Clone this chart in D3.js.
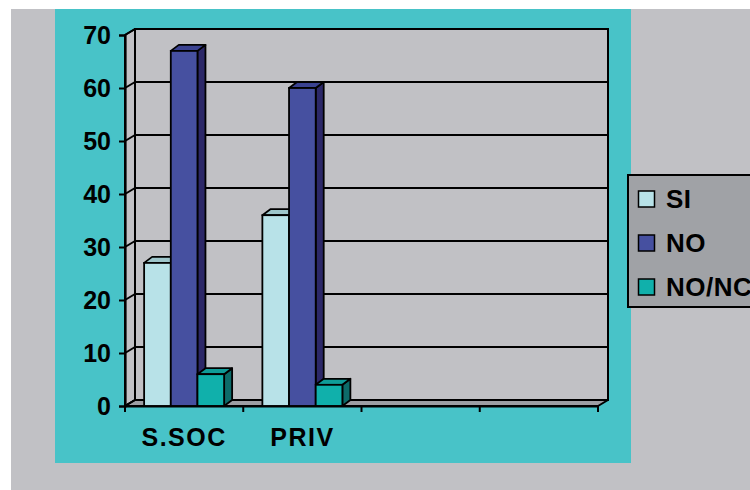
<!DOCTYPE html>
<html>
<head>
<meta charset="utf-8">
<script src="https://cdn.jsdelivr.net/npm/d3@7"></script>
<style>
  html, body { margin: 0; padding: 0; background: #ffffff; }
  svg { display: block; }
  text { font-family: "Liberation Sans", Arial, sans-serif; font-weight: bold; fill: #000; }
</style>
</head>
<body>
<svg id="chart" width="750" height="490"></svg>
<script>
// Categories along the x axis (the last two slots are empty)
const categories = ["S.SOC", "PRIV", "", ""];
// Series names
const series = ["SI", "NO", "NO/NC"];
// Values per series, one per filled category
const siValues = [27, 36];
const noValues = [67, 60];
const noncValues = [6, 4];
// Y axis ticks
const yTicks = [0, 10, 20, 30, 40, 50, 60, 70];

const seriesValues = [siValues, noValues, noncValues];
const colors = {
  SI:      { front: "#b8e2e8", top: "#9ec6cb", side: "#8fb7bc" },
  NO:      { front: "#4650a0", top: "#3a4290", side: "#2c2868" },
  "NO/NC": { front: "#10b0ab", top: "#0f9c98", side: "#0d6b69" }
};

const svg = d3.select("#chart");

// Backgrounds
svg.append("rect").attr("x", 11).attr("y", 9).attr("width", 739).attr("height", 481).attr("fill", "#c1c1c5");
svg.append("rect").attr("x", 55).attr("y", 9).attr("width", 576).attr("height", 454).attr("fill", "#48c3c8");

// Oblique 3D projection offsets
const wallDx = 10, wallDy = 6;
const barDx = 8, barDy = 6;

const x = d3.scaleBand().domain(d3.range(categories.length)).range([125, 598]).padding(0);
const y = d3.scaleLinear().domain([0, 70]).range([406, 35]);
const groupW = 80;
const x1 = d3.scaleBand().domain(series)
  .range([(x.bandwidth() - groupW) / 2, (x.bandwidth() + groupW) / 2]).padding(0);

const x0 = x.range()[0], xEnd = x.range()[1];
const y0 = y(0), yTop = y(70);

const wall = svg.append("g");
// Back wall
wall.append("rect")
  .attr("x", x0 + wallDx).attr("y", yTop - wallDy)
  .attr("width", xEnd - x0).attr("height", y0 - yTop)
  .attr("fill", "#c1c1c5").attr("stroke", "#000").attr("stroke-width", 2);
// Side wall
wall.append("polygon")
  .attr("points", [[x0, yTop], [x0 + wallDx, yTop - wallDy], [x0 + wallDx, y0 - wallDy], [x0, y0]].map(p => p.join(",")).join(" "))
  .attr("fill", "#c1c1c5").attr("stroke", "#000").attr("stroke-width", 2).attr("stroke-linejoin", "round");
// Floor
wall.append("polygon")
  .attr("points", [[x0, y0], [x0 + wallDx, y0 - wallDy], [xEnd + wallDx, y0 - wallDy], [xEnd, y0]].map(p => p.join(",")).join(" "))
  .attr("fill", "#9d9ea3").attr("stroke", "#000").attr("stroke-width", 2).attr("stroke-linejoin", "round");

// Gridlines on back wall and side wall
yTicks.filter(v => v > 0 && v < 70).forEach(v => {
  wall.append("line")
    .attr("x1", x0 + wallDx).attr("x2", xEnd + wallDx)
    .attr("y1", y(v) - wallDy).attr("y2", y(v) - wallDy)
    .attr("stroke", "#000").attr("stroke-width", 2);
});
yTicks.forEach(v => {
  wall.append("line")
    .attr("x1", x0).attr("y1", y(v))
    .attr("x2", x0 + wallDx).attr("y2", y(v) - wallDy)
    .attr("stroke", "#000").attr("stroke-width", 2);
});

// Bars
const bars = svg.append("g");
categories.forEach((cat, ci) => {
  series.forEach((s, si) => {
    const v = seriesValues[si][ci];
    if (v === undefined) return;
    const bx = x(ci) + x1(s);
    const bw = x1.bandwidth();
    const by = y(v);
    const c = colors[s];
    // side face
    bars.append("polygon")
      .attr("points", [[bx + bw, by], [bx + bw + barDx, by - barDy], [bx + bw + barDx, y0 - barDy], [bx + bw, y0]].map(p => p.join(",")).join(" "))
      .attr("fill", c.side).attr("stroke", "#000").attr("stroke-width", 1.8).attr("stroke-linejoin", "round");
    // top face
    bars.append("polygon")
      .attr("points", [[bx, by], [bx + barDx, by - barDy], [bx + bw + barDx, by - barDy], [bx + bw, by]].map(p => p.join(",")).join(" "))
      .attr("fill", c.top).attr("stroke", "#000").attr("stroke-width", 1.8).attr("stroke-linejoin", "round");
    // front face
    bars.append("rect")
      .attr("x", bx).attr("y", by).attr("width", bw).attr("height", y0 - by)
      .attr("fill", c.front).attr("stroke", "#000").attr("stroke-width", 1.8);
  });
});

// Y axis
const yAxis = svg.append("g").attr("transform", `translate(${x0},0)`)
  .call(d3.axisLeft(y).tickValues(yTicks).tickSize(6).tickPadding(8).tickFormat(d3.format("d")));
yAxis.select(".domain").attr("stroke", "#000").attr("stroke-width", 2.2);
yAxis.selectAll(".tick line").attr("stroke", "#000").attr("stroke-width", 2);
yAxis.selectAll(".tick text")
  .attr("font-size", 25).attr("font-family", "'Liberation Sans', Arial, sans-serif")
  .attr("font-weight", "bold").attr("fill", "#000");

// X axis
const xAxis = svg.append("g").attr("transform", `translate(0,${y0})`)
  .call(d3.axisBottom(x).tickSize(0).tickPadding(22).tickFormat(i => categories[i]));
xAxis.select(".domain").attr("stroke", "#000").attr("stroke-width", 2.2);
xAxis.selectAll(".tick text")
  .attr("font-size", 25).attr("letter-spacing", "1.5px")
  .attr("font-family", "'Liberation Sans', Arial, sans-serif")
  .attr("font-weight", "bold").attr("fill", "#000");
// Category boundary ticks
const bounds = d3.range(categories.length + 1).map(i => x0 + i * x.step());
xAxis.selectAll(".bound").data(bounds).join("line")
  .attr("class", "bound")
  .attr("x1", d => d).attr("x2", d => d).attr("y1", 0).attr("y2", 6)
  .attr("stroke", "#000").attr("stroke-width", 2);

// Legend
const legend = svg.append("g");
legend.append("rect")
  .attr("x", 628).attr("y", 175).attr("width", 140).attr("height", 132)
  .attr("fill", "#a0a2a6").attr("stroke", "#000").attr("stroke-width", 2);
series.forEach((s, i) => {
  const ly = 191 + i * 44;
  legend.append("rect")
    .attr("x", 638.5).attr("y", ly).attr("width", 16).attr("height", 16)
    .attr("fill", colors[s].front).attr("stroke", "#000").attr("stroke-width", 1.5);
  legend.append("text")
    .attr("x", 666).attr("y", ly + 17)
    .attr("font-size", 26).attr("letter-spacing", "0.5px")
    .text(s);
});
</script>
</body>
</html>
